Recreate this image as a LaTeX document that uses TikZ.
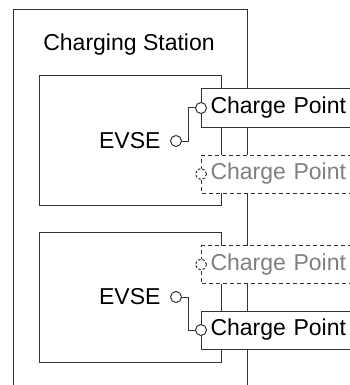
\documentclass[tikz,border=0pt]{standalone}
\usepackage{fontspec}
\setmainfont{Liberation Sans}
\usepackage{tikz}
\usetikzlibrary{positioning, shapes.geometric}
\definecolor{linecolor}{RGB}{51,51,51}
\definecolor{ghostcolor}{RGB}{128,128,128}
\tikzset{
  evsebox/.style={draw=linecolor, line width=1pt},
  cpbox/.style={draw=linecolor, fill=white, line width=1pt, anchor=west,
                minimum height=39pt, text width=150pt, inner xsep=9pt,
                align=left, font=\fontsize{23}{27}\selectfont},
  ghostbox/.style={cpbox, dashed, dash pattern=on 4pt off 3pt, text=ghostcolor},
  port/.style={circle, draw=linecolor, fill=white, line width=1pt,
               minimum size=11pt, inner sep=0pt},
  ghostport/.style={port, dash pattern=on 2.5pt off 2pt},
  link/.style={draw=linecolor, line width=1pt},
  title/.style={font=\fontsize{23}{27}\selectfont},
}
\begin{document}
\begin{tikzpicture}[x=1pt, y=-1pt]
  \useasboundingbox (0,0) rectangle (350,385);
  \clip (0,0) rectangle (350,385);

  % --- Station and EVSE frames ---
  \draw[evsebox] (13,400) -- (13,10) -- (247,10) -- (247,400);
  \node[title] (station) at (129,45) {Charging Station};
  \draw[evsebox] (39,76) rectangle (221,205);
  \draw[evsebox] (39,232) rectangle (221,362);

  % --- Charge points ---
  \node[cpbox] (cp1) at (201,108) {Charge Point};
  \node[ghostbox, minimum height=38pt] (cp2) at (201,174) {Charge Point};
  \node[ghostbox, minimum height=38pt] (cp3) at (201,264.5) {Charge Point};
  \node[cpbox, minimum height=38pt] (cp4) at (201,330) {Charge Point};

  \node[port] (cpp1) at (cp1.west) {};
  \node[ghostport] (cpp2) at (cp2.west) {};
  \node[ghostport] (cpp3) at (cp3.west) {};
  \node[port] (cpp4) at (cp4.west) {};

  % --- EVSE ports ---
  \node[port] (ep1) at (176,141) {};
  \node[title, left=6pt of ep1] (evse1) {EVSE};
  \node[port] (ep2) at (176,297) {};
  \node[title, left=6pt of ep2] (evse2) {EVSE};

  \draw[link] (ep1.east) -- ++(6,0) |- (cpp1.west);
  \draw[link] (ep2.east) -- ++(6,0) |- (cpp4.west);

\end{tikzpicture}
\end{document}
